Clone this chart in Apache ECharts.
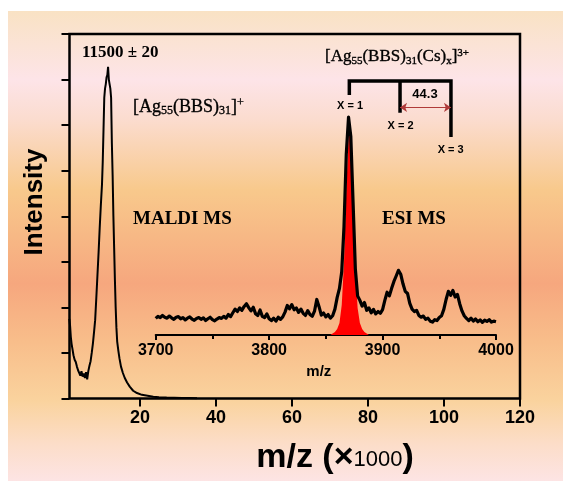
<!DOCTYPE html>
<html><head><meta charset="utf-8">
<script src="https://cdn.jsdelivr.net/npm/echarts@6/dist/echarts.min.js"></script>
<style>html,body{margin:0;padding:0;background:#fff}#c{width:563px;height:481px}</style>
</head><body><div id="c"></div>
<script>
// ---- MALDI MS (main plot), m/z in thousands, intensity in tick units ----
const maldiMz = [1.4,1.6,1.8,2.0,2.2,2.5,2.8,3.1,3.4,3.7,4.0,4.3,4.6,4.9,5.2,5.5,5.8,6.1,6.4,6.7,
  7.0,7.3,7.6,7.9,8.2,8.5,8.8,9.1,9.4,9.7,10.0,10.2,10.4,10.6,10.8,11.0,11.2,11.4,11.6,11.8,
  12.0,12.2,12.4,12.6,12.8,13.0,13.2,13.4,13.6,13.8,14.0,14.3,14.6,15.0,15.5,16.0,16.6,17.3,18.2,19.2,
  20.5,22,23.5,25,27,29,31,33,35];
const maldiIntensity = [1.75,1.6,1.35,1.2,1.1,0.95,0.85,0.8,0.7,0.62,0.56,0.5,0.6,0.48,0.55,0.45,0.58,0.42,0.6,0.72,
  0.82,1.0,1.2,1.45,1.72,2.2,2.7,3.2,3.75,4.25,4.7,5.2,5.9,6.6,6.8,6.9,7.05,7.1,7.28,7.0,
  6.9,6.8,6.6,5.6,4.9,4.0,3.3,2.6,2.0,1.55,1.25,1.05,0.88,0.7,0.56,0.45,0.35,0.26,0.17,0.12,
  0.08,0.06,0.04,0.03,0.02,0.015,0.01,0.01,0.005];

// ---- ESI MS (inset) ----
const esiMz = [3700,3702,3704,3706,3708,3710,3712,3714,3716,3718,
  3720,3722,3724,3726,3728,3730,3732,3734,3736,3738,
  3740,3742,3744,3746,3748,3750,3752,3754,3756,3758,
  3760,3762,3764,3766,3768,3770,3772,3774,3776,3778,
  3780,3782,3784,3786,3788,3790,3792,3794,3796,3798,
  3800,3802,3804,3806,3808,3810,3812,3814,3816,3818,
  3820,3822,3824,3826,3828,3830,3832,3834,3836,3838,
  3840,3842,3844,3846,3848,3850,3852,3854,3856,3858,
  3860,3862,3864,3866,3868,3870,3872,3874,3876,3878,
  3880,3882,3884,3886,3888,3890,3892,3894,3896,3898,
  3900,3902,3904,3906,3908,3910,3912,3914,3916,3918,
  3920,3922,3924,3926,3928,3930,3932,3934,3936,3938,
  3940,3942,3944,3946,3948,3950,3952,3954,3956,3958,
  3960,3962,3964,3966,3968,3970,3972,3974,3976,3978,
  3980,3982,3984,3986,3988,3990,3992,3994,3996,3998,
  4000];
const esiIntensity = [5.5,6.2,5.8,6.5,5.9,5.6,6.3,5.7,5.2,5.9,
  6.1,5.4,5.8,5.0,5.6,6.0,5.3,4.9,5.5,5.8,
  5.2,5.7,4.8,5.4,5.9,5.1,4.7,5.3,5.8,5.5,
  6.2,5.6,6.8,6.1,7.4,8.6,7.8,9.0,8.2,9.5,
  10.4,9.1,8.0,9.2,7.1,6.5,8.3,6.2,5.8,7.0,
  5.4,4.8,5.6,4.6,5.9,5.2,6.0,7.6,9.8,8.7,
  10.1,8.4,9.0,7.5,8.6,7.2,6.5,8.1,6.8,6.2,
  7.9,11.8,9.4,6.6,7.3,6.0,6.8,5.6,6.4,8.6,
  12.5,15.5,21,36,60,72.4,66,44,22,13,
  11.5,9.6,10.8,8.2,9.0,7.4,8.5,7.0,7.8,7.2,
  8.4,11.5,14.2,13.0,15.5,17.8,19.6,21.5,20.2,17.0,
  14.5,13.8,10.5,8.6,7.8,8.2,6.5,5.9,6.3,5.2,
  5.6,4.6,4.3,5.1,4.8,5.8,6.4,8.5,11.8,14.5,
  13.2,14.8,12.6,13.5,10.4,8.0,6.4,5.5,4.8,5.6,
  4.6,5.3,4.4,5.0,4.2,4.9,4.5,5.1,4.3,4.6,
  4.4];
// highlighted x = 1 peak (red fill)
const redMz = [3854,3856,3858,3860,3862,3864,3866,3868,3870,3871,3872,3874,3876,3878,3880,3882,3884,3886,3888];
const redIntensity = [0,0.5,1,2,4,10,24,48,66,68,64,44,22,9,4,2,1,0.5,0];

// Cs adduct peak positions (x = 1, 2, 3)
const csMz = [3870.7, 3915.4, 3960.3];
const csLabels = ['X = 1', 'X = 2', 'X = 3'];

// tick labels
const mainTicks = [20, 40, 60, 80, 100, 120];

const SANS = '"Liberation Sans", Arial, sans-serif';
const SERIF = '"Liberation Serif", "Times New Roman", serif';

const chart = echarts.init(document.getElementById('c'), null, {renderer: 'canvas'});

const zip = (a, b) => a.map((v, i) => [v, b[i]]);

// bracket geometry (inset data coordinates)
const bTop = 84.4, bBottoms = [79.7, 73.8, 65.8], arrowY = 75.6;

function txt(x, y, text, font, align) {
  return {type: 'text', x: x, y: y, z: 50, silent: true,
    style: {text: text, font: font, fill: '#000', align: align || 'center', verticalAlign: 'middle'}};
}
const serifTok = (size, lh, va) => {
  const o = {fontSize: size, fontFamily: SERIF, fill: '#000', stroke: '#000', lineWidth: 0.35, lineHeight: lh};
  if (va) o.verticalAlign = va;
  return o;
};

const option = {
  backgroundColor: '#ffffff',
  animation: false,
  graphic: [
    {type: 'rect', x: 8, y: 11, z: -100, silent: true, shape: {width: 555, height: 470},
      style: {fill: new echarts.graphic.LinearGradient(0, 0, 0, 1, [
        {offset: 0, color: '#F9E2C4'},
        {offset: 0.147, color: '#FDE4E8'},
        {offset: 0.23, color: '#FBDCCF'},
        {offset: 0.38, color: '#F8C98C'},
        {offset: 0.58, color: '#F6A77E'},
        {offset: 0.70, color: '#F8BD8A'},
        {offset: 0.83, color: '#FAD39E'},
        {offset: 0.92, color: '#FCDDC8'},
        {offset: 1, color: '#FDE4E4'}
      ])}},
    txt(82, 52.5, '11500 \u00B1 20', 'bold 17px ' + SERIF, 'left'),
    {type: 'text', x: 133, y: 107, z: 50, silent: true,
      style: {text: '{a|[Ag}{s|55}{a|(BBS)}{s|31}{a|]}{p|+}', fill: '#000', align: 'left', verticalAlign: 'middle',
        rich: {a: serifTok(18, 20), s: serifTok(12, 12, 'bottom'), p: serifTok(12, 12, 'top')}}},
    txt(133, 219.5, 'MALDI MS', 'bold 19px ' + SERIF, 'left'),
    txt(382, 219.5, 'ESI MS', 'bold 19px ' + SERIF, 'left'),
    {type: 'text', x: 325, y: 57, z: 50, silent: true,
      style: {text: '{a|[Ag}{s|55}{a|(BBS)}{s|31}{a|(Cs)}{s|x}{a|]}{p|3+}', fill: '#000', align: 'left', verticalAlign: 'middle',
        rich: {a: serifTok(17, 19), s: serifTok(11, 11, 'bottom'), p: serifTok(11, 11, 'top')}}},
    txt(350, 105.5, csLabels[0], 'bold 11px ' + SANS),
    txt(400.5, 125.5, csLabels[1], 'bold 11px ' + SANS),
    txt(450.7, 149.5, csLabels[2], 'bold 11px ' + SANS),
    txt(425, 94.5, '44.3', 'bold 13px ' + SANS),
    {type: 'text', x: 35, y: 202, rotation: Math.PI / 2, z: 50, silent: true,
      style: {text: 'Intensity', font: 'bold 26px ' + SANS, fill: '#000', align: 'center', verticalAlign: 'middle'}},
    {type: 'text', x: 335, y: 458, z: 50, silent: true,
      style: {text: '{b|m/z (\u00D7}{c|1000}{b|)}', fill: '#000', align: 'center', verticalAlign: 'middle',
        rich: {
          b: {fontSize: 34, fontWeight: 'bold', fontFamily: SANS, fill: '#000', lineHeight: 36},
          c: {fontSize: 22, fontFamily: SANS, fill: '#000', lineHeight: 22, padding: [4, 0, 0, 0]}
        }}}
  ],
  grid: [
    {left: 69.5, top: 34, width: 450.5, height: 364.5, show: true, borderColor: '#000', borderWidth: 2.5, backgroundColor: 'transparent'},
    {left: 155.7, top: 34, width: 340.3, height: 301}
  ],
  xAxis: [
    {gridIndex: 0, type: 'value', min: 1.45, max: 120,
      axisLine: {show: false},
      axisTick: {show: true, inside: false, length: 8, lineStyle: {color: '#000', width: 2}, customValues: mainTicks},
      axisLabel: {show: true, customValues: mainTicks, margin: 11, color: '#000', fontSize: 18, fontWeight: 'bold', fontFamily: SANS},
      splitLine: {show: false}},
    {gridIndex: 1, type: 'value', min: 3700, max: 4000, interval: 100,
      axisLine: {show: true, onZero: false, lineStyle: {color: '#000', width: 2}},
      axisTick: {show: true, length: 5, lineStyle: {color: '#000', width: 2}},
      minorTick: {show: true, splitNumber: 2, length: 4, lineStyle: {color: '#000', width: 2}},
      axisLabel: {margin: 8, color: '#000', fontSize: 16, fontWeight: 'bold', fontFamily: SANS,
        formatter: v => String(v)},
      splitLine: {show: false}, minorSplitLine: {show: false},
      name: 'm/z', nameLocation: 'middle', nameGap: 27,
      nameTextStyle: {color: '#000', fontSize: 15, fontWeight: 'bold', fontFamily: SANS, padding: [0, 14, 0, 0]}}
  ],
  yAxis: [
    {gridIndex: 0, type: 'value', min: 0, max: 8, interval: 1,
      axisLine: {show: false},
      axisTick: {show: true, inside: false, length: 8, lineStyle: {color: '#000', width: 2}},
      axisLabel: {show: false}, splitLine: {show: false}},
    {gridIndex: 1, type: 'value', min: 0, max: 100, show: false}
  ],
  series: [
    {type: 'line', xAxisIndex: 0, yAxisIndex: 0, data: zip(maldiMz, maldiIntensity), showSymbol: false, symbol: 'none',
      lineStyle: {color: '#000', width: 2}, z: 3},
    {type: 'line', xAxisIndex: 1, yAxisIndex: 1, data: zip(redMz, redIntensity), symbol: 'none',
      lineStyle: {width: 0}, areaStyle: {color: '#FF0000', opacity: 1}, z: 2},
    {type: 'line', xAxisIndex: 1, yAxisIndex: 1, data: zip(esiMz, esiIntensity), symbol: 'none',
      lineStyle: {color: '#000', width: 3.2, join: 'round'}, z: 3},
    {type: 'line', xAxisIndex: 1, yAxisIndex: 1, symbol: 'none',
      data: [[csMz[0], bBottoms[0]], [csMz[0], bTop], [csMz[2], bTop], [csMz[2], bBottoms[2]]],
      lineStyle: {color: '#000', width: 3.5, join: 'miter', cap: 'butt'}, z: 4,
      markLine: {silent: true, symbol: ['arrow', 'arrow'], symbolSize: 7, animation: false,
        lineStyle: {color: '#B03A3A', width: 1, type: 'solid'}, label: {show: false},
        data: [[{coord: [csMz[1], arrowY]}, {coord: [csMz[2], arrowY]}]]}},
    {type: 'line', xAxisIndex: 1, yAxisIndex: 1, symbol: 'none',
      data: [[csMz[1], bTop], [csMz[1], bBottoms[1]]],
      lineStyle: {color: '#000', width: 3.5, cap: 'butt'}, z: 4}
  ]
};
chart.setOption(option);
</script></body></html>
